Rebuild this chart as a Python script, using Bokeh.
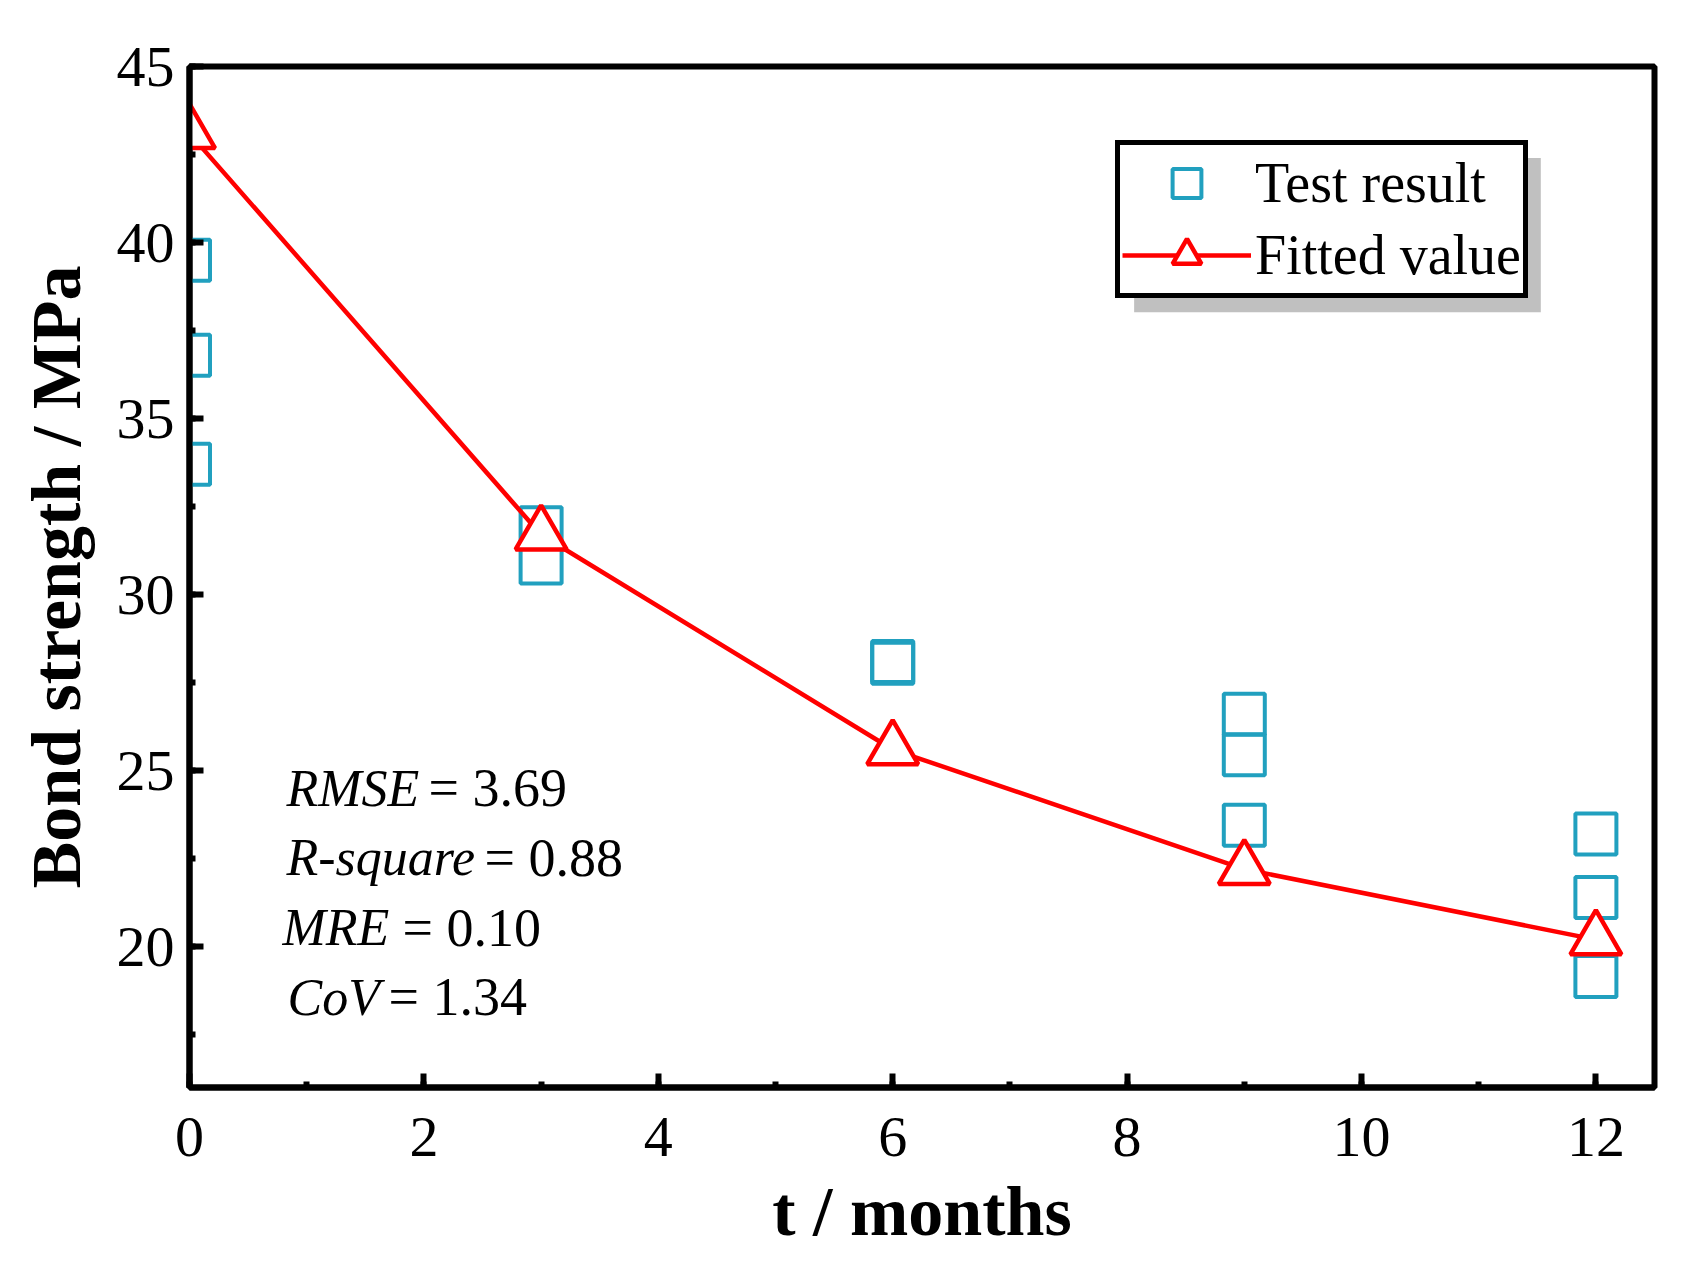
from bokeh.plotting import figure
from bokeh.models import (Range1d, SingleIntervalTicker, Legend, LegendItem,
                          Label, BoxAnnotation)
from bokeh.embed import file_html
from bokeh.resources import INLINE

# data
t_test = [0, 0, 0, 3, 3, 6, 6, 9, 9, 9, 12, 12, 12]
bond_test = [39.5, 36.8, 33.7, 31.9, 30.9, 28.1, 28.05, 26.6, 25.45, 23.45, 23.2, 21.4, 19.15]

t_fit = [0, 3, 6, 9, 12]
bond_fit = [43.1, 31.7, 25.6, 22.2, 20.2]

stat_names = ["RMSE", "R-square", "MRE", "CoV"]
stat_values = ["3.69", "0.88", "0.10", "1.34"]

FONT = "Liberation Serif"
BLUE = "#21a0bf"
RED = "#ff0000"

p = figure(width=1666, height=1253, output_backend="svg", toolbar_location=None,
           x_range=Range1d(0, 12.5), y_range=Range1d(16, 45),
           min_border_left=189, min_border_right=12, min_border_top=66,
           min_border_bottom=166)
p.xgrid.visible = False
p.ygrid.visible = False
p.outline_line_color = "black"
p.outline_line_width = 6
p.outline_line_alpha = 1
p.background_fill_color = "white"
p.border_fill_color = "white"

p.xaxis.ticker = SingleIntervalTicker(interval=2, num_minor_ticks=2)
p.yaxis.ticker = SingleIntervalTicker(interval=5, num_minor_ticks=2)
p.xaxis.axis_label = "t / months"
p.yaxis.axis_label = "Bond strength / MPa"

for ax in (p.xaxis[0], p.yaxis[0]):
    ax.axis_line_width = 6
    ax.axis_line_color = "black"
    ax.major_tick_in = 14
    ax.major_tick_out = 0
    ax.minor_tick_in = 6
    ax.minor_tick_out = 0
    ax.major_tick_line_width = 6
    ax.minor_tick_line_width = 6
    ax.major_label_text_font = FONT
    ax.major_label_text_font_size = "58px"
    ax.major_label_text_color = "black"
    ax.axis_label_text_font = FONT
    ax.axis_label_text_font_size = "70px"
    ax.axis_label_text_font_style = "bold"
    ax.axis_label_text_color = "black"

p.xaxis.major_label_standoff = 30
p.yaxis.major_label_standoff = 15
p.xaxis.axis_label_standoff = 14
p.yaxis.axis_label_standoff = 19

# test results: hollow squares
sq = p.scatter(t_test, bond_test, marker="square", size=41, fill_color=None,
               line_color=BLUE, line_width=4)

# fitted values: red line with hollow triangles
ln = p.line(t_fit, bond_fit, line_color=RED, line_width=4.5)
tri = p.scatter(t_fit, bond_fit, marker="triangle", size=51, fill_color="white",
                line_color=RED, line_width=4.5)

# legend shadow
p.add_layout(BoxAnnotation(left=8.06, right=11.53, top=42.40, bottom=38.02,
                           fill_color="#c0c0c0", fill_alpha=1, line_alpha=0,
                           level="overlay"))

legend = Legend(items=[LegendItem(label="Test result", renderers=[sq]),
                       LegendItem(label="Fitted value", renderers=[ln, tri])],
                location=(926, 789), orientation="vertical",
                glyph_width=129, glyph_height=72, spacing=0, padding=2,
                margin=0, label_standoff=4,
                label_text_font=FONT, label_text_font_size="56px",
                label_text_color="black",
                border_line_color="black", border_line_width=5,
                border_line_alpha=1,
                background_fill_color="white", background_fill_alpha=1)
p.add_layout(legend, "center")

# fit statistics
for i, (name, val) in enumerate(zip(stat_names, stat_values)):
    y0 = 24.5 - i * 1.98
    p.add_layout(Label(x=0, y=y0, x_offset=[97, 97, 93, 98][i], text=name,
                       text_font=FONT, text_font_style="italic",
                       text_font_size="52px", text_baseline="alphabetic",
                       text_color="black"))
    p.add_layout(Label(x=0, y=y0, x_offset=[239, 295, 213, 199][i],
                       text="= " + val, text_font=FONT,
                       text_font_size="54px", text_baseline="alphabetic",
                       text_color="black"))

open("out.html", "w").write(file_html(p, INLINE))
